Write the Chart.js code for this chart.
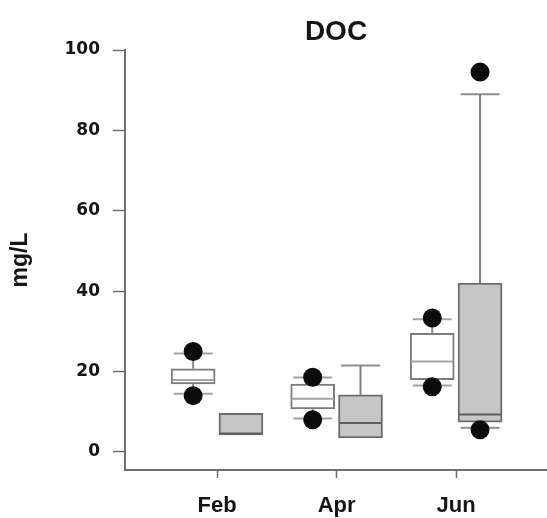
<!DOCTYPE html>
<html>
<head>
<meta charset="utf-8">
<script src="https://cdn.jsdelivr.net/npm/chart.js@4.4.1/dist/chart.umd.min.js"></script>
<style>
  html, body { margin: 0; padding: 0; background: #ffffff; }
  canvas { display: block; }
</style>
</head>
<body>
<canvas id="chart" width="547" height="518"></canvas>
<script>
// Sampling months and axis ticks
const months = ['Feb', 'Apr', 'Jun'];
const yTicks = [0, 20, 40, 60, 80, 100];

// First (white) box series, mg/L
const whiteQ1     = [16.9, 10.7, 18.0];
const whiteMedian = [17.9, 13.2, 22.5];
const whiteQ3     = [20.7, 16.9, 29.5];
const whiteLow    = [14.5, 8.3, 16.5];
const whiteHigh   = [24.5, 18.5, 33.0];
const whiteOutLow  = [14.0, 8.0, 16.2];
const whiteOutHigh = [25.0, 18.6, 33.3];

// Second (grey) box series, mg/L
const greyQ1     = [4.2, 3.5, 7.4];
const greyMedian = [4.6, 7.2, 9.3];
const greyQ3     = [9.6, 14.2, 42.0];
const greyLow    = [4.2, 3.5, 6.0];
const greyHigh   = [9.6, 21.5, 89.0];
const greyOutLow  = [null, null, 5.5];
const greyOutHigh = [null, null, 94.5];

// Geometry in x-axis units (one unit per month)
const GROUP_SHIFT = 0.2;
const CAP_HALF = 0.163;
const MEDIAN_HALF = 0.176;

const AXIS_COLOR = '#6e6e6e';
const TEXT_COLOR = '#151515';

const centers = shift => months.map((m, i) => i + 1 + shift);

function boxes(cx, q1, q3) {
  return cx.map((x, i) => ({ x, y: [q1[i], q3[i]] }));
}

// Join two-point segments into one line dataset, separated by gaps
function segments(list) {
  const out = [];
  list.forEach(([a, b]) => { out.push(a, b, { x: b.x, y: null }); });
  return out;
}

function whiskers(cx, q1, q3, lo, hi) {
  const s = [];
  cx.forEach((x, i) => {
    if (hi[i] > q3[i]) s.push([{ x, y: q3[i] }, { x, y: hi[i] }]);
    if (lo[i] < q1[i]) s.push([{ x, y: q1[i] }, { x, y: lo[i] }]);
  });
  return segments(s);
}

function caps(cx, q1, q3, lo, hi) {
  const s = [];
  cx.forEach((x, i) => {
    if (hi[i] > q3[i]) s.push([{ x: x - CAP_HALF, y: hi[i] }, { x: x + CAP_HALF, y: hi[i] }]);
    if (lo[i] < q1[i]) s.push([{ x: x - CAP_HALF, y: lo[i] }, { x: x + CAP_HALF, y: lo[i] }]);
  });
  return segments(s);
}

function medians(cx, med) {
  return segments(cx.map((x, i) => [{ x: x - MEDIAN_HALF, y: med[i] }, { x: x + MEDIAN_HALF, y: med[i] }]));
}

function outliers(cx, lo, hi) {
  const pts = [];
  cx.forEach((x, i) => {
    if (lo[i] !== null) pts.push({ x, y: lo[i] });
    if (hi[i] !== null) pts.push({ x, y: hi[i] });
  });
  return pts;
}

const cw = centers(-GROUP_SHIFT);
const cg = centers(GROUP_SHIFT);

const lineStyle = (color, order) => ({
  type: 'line',
  borderColor: color,
  borderWidth: 2,
  pointRadius: 0,
  fill: false,
  spanGaps: false,
  tension: 0,
  borderCapStyle: 'butt',
  order
});

const boxStyle = (fill, border) => ({
  type: 'bar',
  backgroundColor: fill,
  borderColor: border,
  borderWidth: 2,
  borderSkipped: false,
  grouped: false,
  barPercentage: 1,
  categoryPercentage: 1,
  maxBarThickness: 44,
  order: 3
});

new Chart(document.getElementById('chart'), {
  type: 'bar',
  data: {
    datasets: [
      Object.assign({ data: whiskers(cw, whiteQ1, whiteQ3, whiteLow, whiteHigh) }, lineStyle('#8a8a8a', 5)),
      Object.assign({ data: whiskers(cg, greyQ1, greyQ3, greyLow, greyHigh) }, lineStyle('#7e7e7e', 5)),
      Object.assign({ data: caps(cw, whiteQ1, whiteQ3, whiteLow, whiteHigh) }, lineStyle('#a2a2a2', 5)),
      Object.assign({ data: caps(cg, greyQ1, greyQ3, greyLow, greyHigh) }, lineStyle('#8e8e8e', 5)),
      Object.assign({ data: boxes(cw, whiteQ1, whiteQ3) }, boxStyle('#ffffff', '#7c7c7c')),
      Object.assign({ data: boxes(cg, greyQ1, greyQ3) }, boxStyle('#c6c6c6', '#6c6c6c')),
      Object.assign({ data: medians(cw, whiteMedian) }, lineStyle('#a4a4a4', 2)),
      Object.assign({ data: medians(cg, greyMedian) }, lineStyle('#5e5e5e', 2)),
      {
        type: 'scatter',
        data: outliers(cw, whiteOutLow, whiteOutHigh).concat(outliers(cg, greyOutLow, greyOutHigh)),
        pointRadius: 9.5,
        pointBackgroundColor: '#0c0c0c',
        pointBorderWidth: 0,
        order: 1
      }
    ]
  },
  options: {
    responsive: false,
    animation: false,
    events: [],
    devicePixelRatio: 1,
    layout: { padding: 0, autoPadding: false },
    plugins: {
      legend: { display: false },
      tooltip: { enabled: false },
      title: {
        display: true,
        text: 'DOC',
        fullSize: false,
        color: TEXT_COLOR,
        font: { family: 'Liberation Sans', weight: 'bold', size: 28 },
        padding: { top: 15, bottom: 1.4 }
      }
    },
    scales: {
      x: {
        type: 'linear',
        min: 0.23,
        max: 3.76,
        offset: false,
        afterBuildTicks: s => { s.ticks = months.map((m, i) => ({ value: i + 1 })); },
        afterFit: s => { s.height = 48; },
        ticks: {
          autoSkip: false,
          maxRotation: 0,
          padding: 15,
          color: TEXT_COLOR,
          font: { family: 'Liberation Sans', weight: 'bold', size: 22 },
          callback: v => months[v - 1] ?? ''
        },
        grid: {
          offset: false,
          drawOnChartArea: false,
          tickLength: 8,
          tickColor: AXIS_COLOR,
          tickWidth: 1.5
        },
        border: { color: AXIS_COLOR, width: 2 }
      },
      y: {
        type: 'linear',
        min: -4.5,
        max: 100,
        afterBuildTicks: s => { s.ticks = yTicks.map(v => ({ value: v })); },
        afterFit: s => { s.width = 125; },
        ticks: {
          padding: 13,
          color: TEXT_COLOR,
          font: { family: 'DejaVu Sans', weight: 'bold', size: 17 }
        },
        grid: {
          drawOnChartArea: false,
          tickLength: 12,
          tickColor: AXIS_COLOR,
          tickWidth: 1.5
        },
        border: { color: AXIS_COLOR, width: 2 },
        title: {
          display: true,
          text: 'mg/L',
          color: TEXT_COLOR,
          font: { family: 'Liberation Sans', weight: 'bold', size: 23 },
          padding: { top: 7, bottom: 0 }
        }
      }
    }
  }
});
</script>
</body>
</html>
